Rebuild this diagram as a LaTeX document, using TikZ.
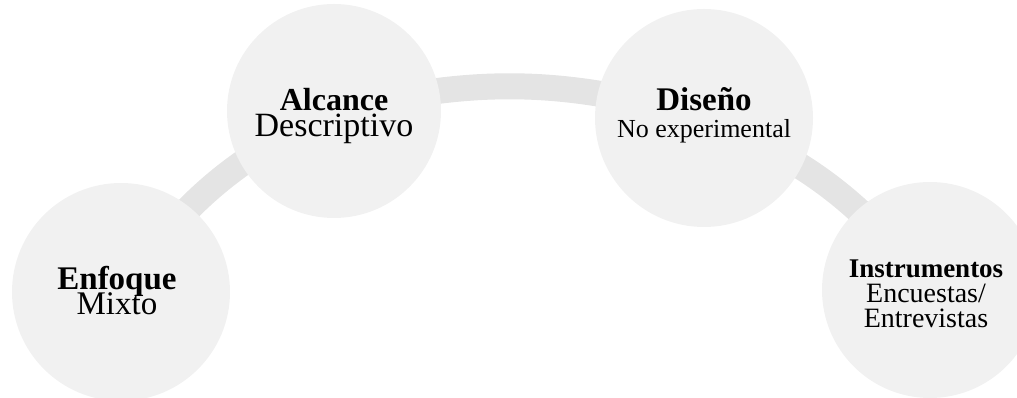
\documentclass[tikz,border=0pt]{standalone}
\usepackage{fontspec}
\setmainfont{Liberation Serif}
\setlength{\lineskiplimit}{-100pt}
\definecolor{bandgray}{RGB}{228,228,228}
\definecolor{discgray}{RGB}{241,241,241}
\begin{document}
\begin{tikzpicture}[x=1pt,y=1pt,
  band/.style={draw=bandgray, line width=26pt},
  disc/.style={circle, fill=discgray, inner sep=0pt, minimum size=#1},
  txt/.style={align=center, text=black, inner sep=0pt}]
\useasboundingbox (0,0) rectangle (1017,398);
\clip (0,0) rectangle (1017,398);
\coordinate (p1) at (121,106);
\coordinate (p2) at (334,287);
\coordinate (p3) at (704,280);
\coordinate (p4) at (930,108);
\draw[band] (p1) to[bend left=15] (p2) to[bend left=15] (p3) to[bend left=15] (p4);
\node[disc=218pt] (c1) at (p1) {};
\node[disc=214pt] (c2) at (p2) {};
\node[disc=218pt] (c3) at (p3) {};
\node[disc=216pt] (c4) at (p4) {};
\node[txt, font=\fontsize{33}{25}\selectfont] (t1) at ([xshift=-4pt,yshift=1pt]c1.center) {\textbf{Enfoque}\\Mixto};
\node[txt, font=\fontsize{32}{26}\selectfont] (t2) at ([yshift=-5pt]c2.center) {\textbf{Alcance}\\{\fontsize{34}{26}\selectfont Descriptivo}};
\node[txt, font=\fontsize{33}{27}\selectfont] (t3) at ([yshift=3pt]c3.center) {\textbf{Diseño}\\{\fontsize{26}{27}\selectfont No experimental}};
\node[txt, font=\fontsize{28}{25}\selectfont] (t4) at ([xshift=-4pt,yshift=-4pt]c4.center) {{\fontsize{27}{25}\selectfont\textbf{Instrumentos}}\\Encuestas/\\Entrevistas};
\end{tikzpicture}
\end{document}
